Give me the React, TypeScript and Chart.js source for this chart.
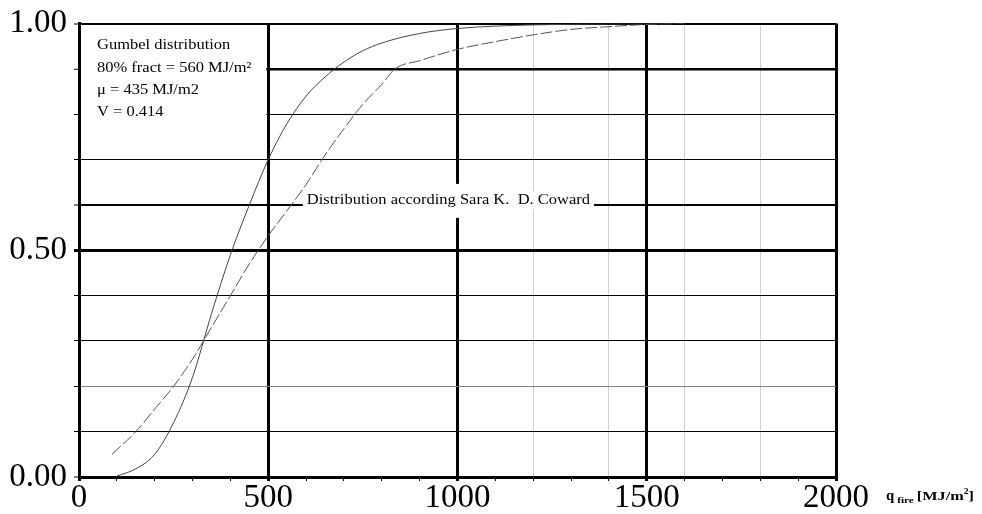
import React, { useEffect, useRef } from 'react';
import { Chart, registerables } from 'chart.js';

Chart.register(...registerables);

// Gumbel distribution (solid curve)
const gumbelX = [100, 150, 200, 250, 300, 350, 400, 450, 500, 550, 600, 650, 700, 750, 800, 900, 1000, 1200, 1400, 1600];
const gumbelY = [0.002, 0.018, 0.05, 0.12, 0.22, 0.36, 0.49, 0.6, 0.7, 0.78, 0.84, 0.882, 0.915, 0.94, 0.957, 0.978, 0.989, 0.997, 0.999, 1.0];

// Distribution according Sara K. D. Coward (dashed curve)
const cowardX = [87, 150, 200, 250, 300, 350, 400, 450, 500, 550, 600, 650, 700, 750, 800, 835, 900, 1000, 1100, 1200, 1300, 1400, 1500, 1600];
const cowardY = [0.05, 0.1, 0.15, 0.2, 0.26, 0.33, 0.4, 0.47, 0.532, 0.588, 0.645, 0.71, 0.768, 0.822, 0.866, 0.9, 0.918, 0.943, 0.96, 0.975, 0.987, 0.993, 0.998, 1.0];

const xLabelValues = [0, 500, 1000, 1500, 2000];
const xLabels = ['0', '500', '1000', '1500', '2000'];
const yLabelValues = [0, 5, 10]; // tenths
const yLabels = ['0.00', '0.50', '1.00'];
const xFaintGrid = [1200, 1400, 1600, 1800];

const boxLines = ['Gumbel distribution', '80% fract = 560 MJ/m\u00B2', '\u03BC = 435 MJ/m2', 'V = 0.414'];
const cowardLabel = 'Distribution according Sara K.  D. Coward';
const cowardLabelX = 602;
const cowardLabelY = 0.6;

const SERIF = '"Liberation Serif", "Times New Roman", serif';

function drawText(ctx: CanvasRenderingContext2D, s: string, x: number, y: number, font: string, sx = 1): number {
  ctx.save();
  ctx.font = font;
  const w = ctx.measureText(s).width * sx;
  ctx.translate(x, y);
  ctx.scale(sx, 1);
  ctx.textAlign = 'left';
  ctx.textBaseline = 'alphabetic';
  ctx.fillStyle = '#000';
  ctx.fillText(s, 0, 0);
  ctx.restore();
  return w;
}

function measure(ctx: CanvasRenderingContext2D, s: string, font: string, sx = 1): number {
  ctx.save();
  ctx.font = font;
  const w = ctx.measureText(s).width * sx;
  ctx.restore();
  return w;
}

const overlayPlugin = {
  id: 'overlay',
  beforeDraw(chart: any) {
    const { ctx, width, height } = chart;
    ctx.save();
    ctx.fillStyle = '#fff';
    ctx.fillRect(0, 0, width, height);
    ctx.restore();
  },
  beforeDatasetsDraw(chart: any) {
    const { ctx } = chart;
    const x = chart.scales.x;
    const y = chart.scales.y;
    ctx.save();
    ctx.fillStyle = '#fff';
    // annotation box (hides 0.8 and 0.9 grid lines)
    const bl = x.getPixelForValue(0) + 2;
    const br = x.getPixelForValue(500) - 2;
    const bt = y.getPixelForValue(1) + 2;
    const bb = y.getPixelForValue(0.7) - 1;
    ctx.fillRect(bl, bt, br - bl, bb - bt);
    // gap in the 1000 line around the label
    const gx = x.getPixelForValue(1000);
    const gy = y.getPixelForValue(cowardLabelY);
    ctx.fillRect(gx - 3, gy - 21, 6, 34);
    // white behind the label
    const f = `15px ${SERIF}`;
    const lx = x.getPixelForValue(cowardLabelX);
    const w = measure(ctx, cowardLabel, f, 1.1);
    ctx.fillRect(lx - 4, gy - 14, w + 8, 18);
    ctx.restore();
  },
  afterDatasetsDraw(chart: any) {
    const { ctx } = chart;
    const x = chart.scales.x;
    const y = chart.scales.y;
    // annotation box text
    const f = `15px ${SERIF}`;
    const tx = x.getPixelForValue(0) + 18;
    const baselines = [49, 72, 94, 116];
    boxLines.forEach((s, i) => drawText(ctx, s, tx, baselines[i], f, 1.1));
    // curve label
    const gy = y.getPixelForValue(cowardLabelY);
    drawText(ctx, cowardLabel, x.getPixelForValue(cowardLabelX), gy - 1, f, 1.1);
    // axis title
    let ax = x.getPixelForValue(2000) + 50;
    const by = 500;
    ax += drawText(ctx, 'q', ax, by, `bold 14px ${SERIF}`, 1.05) + 3;
    ax += drawText(ctx, 'fire', ax, by + 3, `bold 9px ${SERIF}`, 1.25) + 3;
    ax += drawText(ctx, '[MJ/m', ax, by, `bold 13px ${SERIF}`, 1.25);
    ax += drawText(ctx, '2', ax, by - 6, `bold 8px ${SERIF}`, 1.2);
    drawText(ctx, ']', ax, by, `bold 13px ${SERIF}`, 1.25);
  },
};

export default function App() {
  const canvasRef = useRef<HTMLCanvasElement | null>(null);

  useEffect(() => {
    const canvas = canvasRef.current;
    if (!canvas) return;
    const chart = new Chart(canvas, {
      type: 'line',
      data: {
        datasets: [
          {
            label: 'Gumbel distribution',
            data: gumbelX.map((v, i) => ({ x: v, y: gumbelY[i] })),
            borderColor: '#444',
            borderWidth: 1,
            pointRadius: 0,
            fill: false,
            cubicInterpolationMode: 'monotone',
          },
          {
            label: 'Distribution according Sara K. D. Coward',
            data: cowardX.map((v, i) => ({ x: v, y: cowardY[i] })),
            borderColor: '#555',
            borderWidth: 1,
            borderDash: [12, 3],
            pointRadius: 0,
            fill: false,
            cubicInterpolationMode: 'monotone',
          },
        ],
      },
      options: {
        responsive: false,
        animation: false,
        devicePixelRatio: 1,
        layout: { padding: { top: 20, right: 146, left: 0, bottom: 0 } },
        plugins: { legend: { display: false }, tooltip: { enabled: false } },
        scales: {
          x: {
            type: 'linear',
            min: 0,
            max: 2000,
            afterFit: (s: any) => { s.height = 37; },
            border: { display: true, color: '#000', width: 3 },
            grid: {
              color: (c: any) => {
                const v = Math.round(c.tick.value);
                if (v % 500 === 0) return '#000';
                if (xFaintGrid.includes(v)) return '#cfcfcf';
                return 'rgba(0,0,0,0)';
              },
              lineWidth: (c: any) => {
                const v = Math.round(c.tick.value);
                if (v % 500 === 0) return 3;
                return 1;
              },
              tickColor: '#000',
              tickWidth: (c: any) => (Math.round(c.tick.value) % 500 === 0 ? 3 : 1),
              tickLength: 4,
              drawTicks: true,
            },
            ticks: {
              stepSize: 100,
              autoSkip: false,
              maxRotation: 0,
              minRotation: 0,
              padding: 1,
              color: '#000',
              font: { family: SERIF, size: 33, lineHeight: 1 },
              callback: (value: any) => {
                const idx = xLabelValues.indexOf(Math.round(Number(value)));
                return idx >= 0 ? xLabels[idx] : '';
              },
            },
          },
          y: {
            type: 'linear',
            min: 0,
            max: 1,
            afterFit: (s: any) => { s.width = 79; },
            border: { display: true, color: '#000', width: 3 },
            grid: {
              color: (c: any) => {
                const v = Math.round(c.tick.value * 10);
                if (v === 2) return '#808080';
                return '#000';
              },
              lineWidth: (c: any) => {
                const v = Math.round(c.tick.value * 10);
                if (v === 0) return 0;
                if (v === 5) return 3;
                if (v === 9) return 2.5;
                if (v === 6 || v === 10) return 2;
                return 1;
              },
              tickColor: '#000',
              tickWidth: (c: any) => (Math.round(c.tick.value * 10) === 5 ? 3 : 1),
              tickLength: 5,
              drawTicks: true,
            },
            ticks: {
              stepSize: 0.1,
              autoSkip: false,
              padding: 7,
              color: '#000',
              font: { family: SERIF, size: 33, lineHeight: 1 },
              callback: (value: any) => {
                const idx = yLabelValues.indexOf(Math.round(Number(value) * 10));
                return idx >= 0 ? yLabels[idx] : '';
              },
            },
          },
        },
      },
      plugins: [overlayPlugin],
    } as any);
    return () => chart.destroy();
  }, []);

  return (
    <div style={{ position: 'absolute', left: 0, top: 0, width: 982, height: 514, background: '#fff' }}>
      <canvas ref={canvasRef} width={982} height={514} style={{ display: 'block' }} />
    </div>
  );
}
